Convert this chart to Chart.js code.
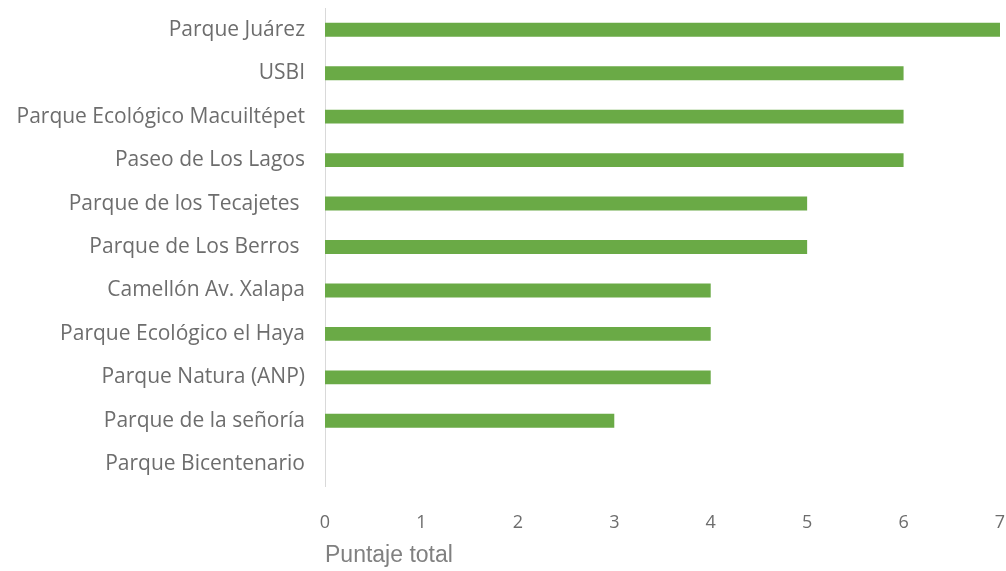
<!DOCTYPE html>
<html lang="es">
<head>
<meta charset="utf-8">
<title>Puntaje total por parque</title>
<script src="https://cdn.jsdelivr.net/npm/chart.js@4"></script>
<style>
    html, body { margin: 0; padding: 0; background: #ffffff; }
    #contenedor { width: 1006px; height: 571px; position: relative; }
</style>
</head>
<body>
<div id="contenedor">
    <canvas id="grafica" width="1006" height="571"></canvas>
</div>
<script>
// Parques evaluados (el espacio final viene así en la hoja original)
const parques = [
    'Parque Juárez',
    'USBI',
    'Parque Ecológico Macuiltépet',
    'Paseo de Los Lagos',
    'Parque de los Tecajetes ',
    'Parque de Los Berros ',
    'Camellón Av. Xalapa',
    'Parque Ecológico el Haya',
    'Parque Natura (ANP)',
    'Parque de la señoría',
    'Parque Bicentenario'
];
const puntajes = [7, 6, 6, 6, 5, 5, 4, 4, 4, 3, 0];
const ticksX = [0, 1, 2, 3, 4, 5, 6, 7];

document.addEventListener('DOMContentLoaded', () => {
    const ctx = document.getElementById('grafica').getContext('2d');

    new Chart(ctx, {
        type: 'bar',
        data: {
            labels: parques,
            datasets: [{
                label: 'Puntaje total',
                data: puntajes,
                backgroundColor: '#6aaa46',
                borderWidth: 0,
                categoryPercentage: 1,
                barPercentage: 0.32
            }]
        },
        options: {
            indexAxis: 'y',
            responsive: false,
            animation: false,
            layout: { padding: { top: 8, right: 6, bottom: 0, left: 0 } },
            plugins: {
                legend: { display: false },
                tooltip: { enabled: false }
            },
            scales: {
                x: {
                    min: 0,
                    max: 7,
                    afterBuildTicks: (scale) => {
                        scale.ticks = ticksX.map(v => ({ value: v }));
                    },
                    // alto fijo del eje y sin relleno extra a los lados
                    afterFit: (scale) => {
                        scale.height = 85;
                        scale.paddingLeft = 0;
                        scale.paddingRight = 0;
                    },
                    grid: { display: false, drawTicks: false },
                    border: { display: false },
                    ticks: {
                        padding: 26,
                        color: '#6d6d6d',
                        font: { family: 'Open Sans', size: 18 }
                    },
                    title: {
                        display: true,
                        text: 'Puntaje total',
                        align: 'start',
                        color: '#808080',
                        padding: { top: 0, bottom: 2 },
                        font: { family: 'Liberation Sans', size: 23 }
                    }
                },
                y: {
                    afterFit: (scale) => {
                        scale.width = 325;
                        scale.paddingTop = 0;
                        scale.paddingBottom = 0;
                    },
                    grid: { display: false, drawTicks: false },
                    border: { display: true, color: '#d9d9d9', width: 1 },
                    ticks: {
                        padding: 20,
                        color: '#6d6d6d',
                        font: { family: 'Open Sans', size: 21 }
                    }
                }
            }
        }
    });
});
</script>
</body>
</html>
